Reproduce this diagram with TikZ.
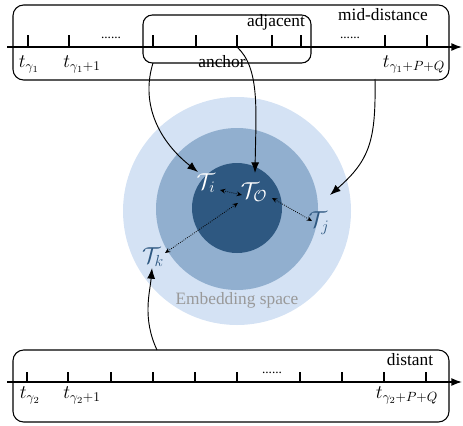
\documentclass[tikz,border=0pt]{standalone}
\usepackage{fontspec}
\setmainfont{Liberation Serif}
\usetikzlibrary{arrows.meta}
\definecolor{outerc}{HTML}{D4E2F4}
\definecolor{midc}{HTML}{91AFCF}
\definecolor{innerc}{HTML}{2E5881}
\definecolor{tcol}{HTML}{2E5881}
\definecolor{greyc}{HTML}{999999}
\tikzset{
  box/.style={draw=black, line width=0.8pt, rounded corners=8pt},
  axis/.style={line width=1.1pt, -{Latex[length=8pt,width=6pt]}},
  tick/.style={line width=1pt},
  lbl/.style={font=\fontsize{13}{15}\selectfont, inner sep=0pt},
  tlbl/.style={font=\fontsize{14}{16}\selectfont, inner sep=0pt},
  dotslbl/.style={font=\fontsize{10}{12}\selectfont, inner sep=0pt},
  tnode/.style={font=\fontsize{17}{19}\selectfont, inner sep=1pt},
  curv/.style={line width=0.7pt, -{Latex[length=8pt,width=6pt]}},
  dotarr/.style={densely dotted, line width=0.6pt, {Stealth[length=4pt,width=3.5pt]}-{Stealth[length=4pt,width=3.5pt]}}
}
\begin{document}
\begin{tikzpicture}[x=0.75pt,y=-0.75pt]
\useasboundingbox (0,0) rectangle (463,425);
% circles
\fill[outerc] (237,211) circle (114);
\fill[midc] (237,209) circle (81);
\fill[innerc] (237,208) circle (45);
\node[lbl, text=greyc] (emb) at (237,300) {Embedding space};
% top box
\node[box, minimum width=327pt, minimum height=56.25pt, inner sep=0pt] (topbox) at (231,42.5) {};
\node[box, rounded corners=7pt, minimum width=126pt, minimum height=36pt, inner sep=0pt] (adjbox) at (227,39) {};
\coordinate (al) at (7,47);
\coordinate (ar) at (462,47);
\draw[axis] (al) -- (ar);
\foreach \x in {28,69,153,196,237,272,301,385,427}{
  \draw[tick] (\x,35) -- (\x,47);
}
\coordinate (anc) at (237,47);
\node[dotslbl] (d1) at (111,38) {......};
\node[dotslbl] (d2) at (350,38) {......};
\node[lbl] (adj) at (276,22) {adjacent};
\node[lbl] (mid) at (383,15) {mid-distance};
\node[lbl] (anchor) at (222,62) {anchor};
\node[tlbl] (t1) at (29,64) {$t_{\gamma_1}$};
\node[tlbl] (t2) at (82,64) {$t_{\gamma_1+1}$};
\node[tlbl] (t3) at (414,64) {$t_{\gamma_1+P+Q}$};
% bottom box
\node[box, minimum width=327pt, minimum height=54pt, inner sep=0pt] (botbox) at (231,386) {};
\coordinate (bl) at (7,382);
\coordinate (br) at (462,382);
\draw[axis] (bl) -- (br);
\foreach \x in {27,68,111,153,195,237,300,342,384,426}{
  \draw[tick] (\x,372) -- (\x,382);
}
\node[dotslbl] (d3) at (272,373) {......};
\node[lbl] (dist) at (410,360) {distant};
\node[tlbl] (u1) at (30,395) {$t_{\gamma_2}$};
\node[tlbl] (u2) at (82,395) {$t_{\gamma_2+1}$};
\node[tlbl] (u3) at (407,395) {$t_{\gamma_2+P+Q}$};
% embedding labels
\node[tnode, text=white] (Ti) at (206,183) {$\mathcal{T}_i$};
\node[tnode, text=white] (TO) at (254,192) {$\mathcal{T}_{\mathcal{O}}$};
\node[tnode, text=tcol] (Tj) at (319,223) {$\mathcal{T}_j$};
\node[tnode, text=tcol] (Tk) at (153,257) {$\mathcal{T}_k$};
% dotted arrows
\coordinate (p1) at (220,190);
\coordinate (p2) at (242,195);
\coordinate (p3) at (272,198);
\coordinate (p4) at (312,221);
\coordinate (p5) at (165,253);
\coordinate (p6) at (238,203);
\draw[dotarr] (p1) -- (p2);
\draw[dotarr] (p3) -- (p4);
\draw[dotarr] (p5) -- (p6);
% curved arrows
\coordinate (s1) at (153,63);
\coordinate (e1) at (198,172);
\draw[curv] (s1) .. controls (140,105) and (160,142) .. (e1);
\coordinate (e2) at (255,173);
\draw[curv] (anc) .. controls (260,68) and (256,110) .. (e2);
\coordinate (s3) at (375,79);
\coordinate (e3) at (330,195);
\draw[curv] (s3) .. controls (376,140) and (370,160) .. (e3);
\coordinate (s4) at (157,350);
\coordinate (e4) at (152,268);
\draw[curv] (s4) .. controls (142,318) and (150,292) .. (e4);
\end{tikzpicture}
\end{document}
